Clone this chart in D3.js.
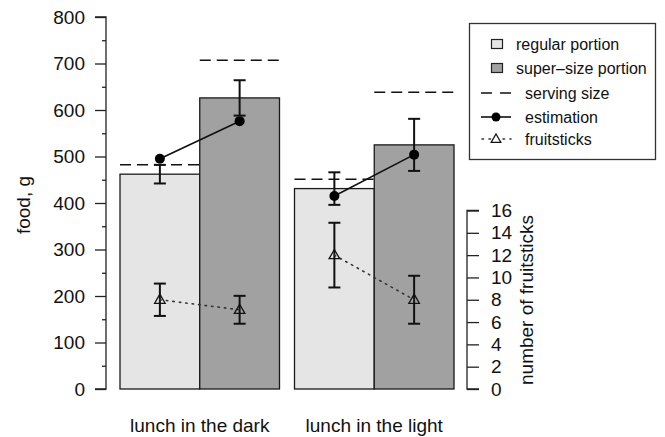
<!DOCTYPE html>
<html>
<head>
<meta charset="utf-8">
<script src="https://cdn.jsdelivr.net/npm/d3@7"></script>
<style>
  body { margin: 0; background: #fff; }
  svg { display: block; font-family: "Liberation Sans", Arial, sans-serif; }
</style>
</head>
<body>
<script>
var categories = ["lunch in the dark", "lunch in the light"];
var portions = ["regular", "super"];

// food, g
var regularFood = [462, 431];
var regularErr = [20, 35];
var superFood = [626, 525];
var superErr = [38, 56];

var regularServing = [482, 451];
var superServing = [707, 638];

var regularEstimate = [495, 415];
var superEstimate = [576, 504];

// number of fruitsticks
var regularSticks = [8.0, 12.0];
var regularSticksErr = [1.45, 2.9];
var superSticks = [7.1, 8.0];
var superSticksErr = [1.25, 2.15];

var foodTicks = [0, 100, 200, 300, 400, 500, 600, 700, 800];
var sticksTicks = [0, 2, 4, 6, 8, 10, 12, 14, 16];

var legendLabels = ["regular portion", "super\u2013size portion", "serving size", "estimation", "fruitsticks"];

var W = 665, H = 437;
var fills = {regular: "#e5e5e5", super: "#a1a1a1"};

var svg = d3.select("body").append("svg")
  .attr("width", W).attr("height", H);

var x = d3.scaleBand().domain(categories).range([120, 454]).paddingInner(15 / 174.5).paddingOuter(0);
var xIn = d3.scaleBand().domain(portions).range([0, x.bandwidth()]);
var y = d3.scaleLinear().domain([0, 800]).range([389, 17]);
var y2 = d3.scaleLinear().domain([0, 16]).range([389, 210.5]);

// rows per group
var rows = [];
categories.forEach(function(c, i){
  rows.push({cat: c, p: "regular", food: regularFood[i], err: regularErr[i], serv: regularServing[i],
             est: regularEstimate[i], st: regularSticks[i], stErr: regularSticksErr[i]});
  rows.push({cat: c, p: "super", food: superFood[i], err: superErr[i], serv: superServing[i],
             est: superEstimate[i], st: superSticks[i], stErr: superSticksErr[i]});
});
function bx(d){ return x(d.cat) + xIn(d.p); }
function cx(d){ return bx(d) + xIn.bandwidth() / 2; }

// bars
svg.append("g").selectAll("rect").data(rows).enter().append("rect")
  .attr("x", bx)
  .attr("y", function(d){ return y(d.food); })
  .attr("width", xIn.bandwidth())
  .attr("height", function(d){ return y(0) - y(d.food); })
  .attr("fill", function(d){ return fills[d.p]; })
  .attr("stroke", "#1a1a1a").attr("stroke-width", 1.3);

// serving size
svg.append("g").selectAll("line").data(rows).enter().append("line")
  .attr("x1", bx)
  .attr("x2", function(d){ return bx(d) + xIn.bandwidth(); })
  .attr("y1", function(d){ return y(d.serv); })
  .attr("y2", function(d){ return y(d.serv); })
  .attr("stroke", "#111").attr("stroke-width", 1.5)
  .attr("stroke-dasharray", "11,6");

function errorBars(g, data, scale, val, err){
  var e = g.selectAll("g").data(data).enter().append("g")
    .attr("stroke", "#111").attr("stroke-width", 2);
  e.append("line")
    .attr("x1", cx).attr("x2", cx)
    .attr("y1", function(d){ return scale(d[val] - d[err]); })
    .attr("y2", function(d){ return scale(d[val] + d[err]); });
  [-1, 1].forEach(function(s){
    e.append("line")
      .attr("x1", function(d){ return cx(d) - 6; })
      .attr("x2", function(d){ return cx(d) + 6; })
      .attr("y1", function(d){ return scale(d[val] + s * d[err]); })
      .attr("y2", function(d){ return scale(d[val] + s * d[err]); });
  });
}

errorBars(svg.append("g"), rows, y, "food", "err");
errorBars(svg.append("g"), rows, y2, "st", "stErr");

// estimation lines
var lineEst = d3.line().x(cx).y(function(d){ return y(d.est); });
var lineSt = d3.line().x(cx).y(function(d){ return y2(d.st); });
categories.forEach(function(c){
  var pair = rows.filter(function(d){ return d.cat === c; });
  svg.append("path").attr("d", lineEst(pair))
    .attr("fill", "none").attr("stroke", "#111").attr("stroke-width", 1.6);
  svg.append("path").attr("d", lineSt(pair))
    .attr("fill", "none").attr("stroke", "#333").attr("stroke-width", 1.6)
    .attr("stroke-dasharray", "1.5,5").attr("stroke-linecap", "round");
});

svg.append("g").selectAll("circle").data(rows).enter().append("circle")
  .attr("cx", cx).attr("cy", function(d){ return y(d.est); })
  .attr("r", 5).attr("fill", "#000");

var tri = d3.symbol().type(d3.symbolTriangle).size(48);
svg.append("g").selectAll("path").data(rows).enter().append("path")
  .attr("d", tri)
  .attr("transform", function(d){ return "translate(" + cx(d) + "," + (y2(d.st) + 0.5) + ")"; })
  .attr("fill", "none").attr("stroke", "#111").attr("stroke-width", 1.3);

// left axis
var axL = svg.append("g").attr("transform", "translate(106,0)")
  .call(d3.axisLeft(y).tickValues(foodTicks).tickSize(11).tickPadding(10));
svg.append("g").attr("transform", "translate(106,0)")
  .call(d3.axisLeft(y).tickValues(d3.range(50, 800, 100)).tickSize(4).tickFormat(""))
  .select(".domain").remove();

// right axis
var axR = svg.append("g").attr("transform", "translate(467,0)")
  .call(d3.axisRight(y2).tickValues(sticksTicks).tickSize(12).tickPadding(12));

svg.selectAll(".tick line, .domain").attr("stroke", "#222").attr("stroke-width", 1.3);
axL.select(".domain").attr("d", "M-11," + y(800) + "H0V" + y(0) + "H-11");
axR.select(".domain").attr("d", "M12," + y2(16) + "H0V" + y2(0) + "H12");
svg.selectAll(".tick text").attr("font-size", 19).attr("fill", "#111")
  .attr("font-family", "Liberation Sans, Arial, sans-serif");

// category labels
svg.append("g").selectAll("text").data(categories).enter().append("text")
  .attr("x", function(d){ return x(d) + x.bandwidth() / 2; })
  .attr("y", 432)
  .attr("text-anchor", "middle").attr("font-size", 19).attr("fill", "#111")
  .text(function(d){ return d; });

// axis titles
svg.append("text").attr("transform", "translate(30,205) rotate(-90)")
  .attr("text-anchor", "middle").attr("font-size", 19).attr("fill", "#111").text("food, g");
svg.append("text").attr("transform", "translate(533,300) rotate(-90)")
  .attr("text-anchor", "middle").attr("font-size", 19).attr("fill", "#111").text("number of fruitsticks");

// legend
var lg = svg.append("g");
lg.append("rect").attr("x", 469.5).attr("y", 23.5).attr("width", 186).attr("height", 136)
  .attr("fill", "#fff").attr("stroke", "#333").attr("stroke-width", 1.3);
var ly = [44, 68, 93, 117, 139];
var lx = [516, 516, 525, 525, 525];
lg.selectAll("text").data(legendLabels).enter().append("text")
  .attr("x", function(d, i){ return lx[i]; })
  .attr("y", function(d, i){ return ly[i] + 6; })
  .attr("font-size", 16).attr("fill", "#111")
  .text(function(d){ return d; });
portions.forEach(function(p, i){
  lg.append("rect").attr("x", 491.5).attr("y", ly[i] - 4.5).attr("width", 11).attr("height", 9)
    .attr("fill", fills[p]).attr("stroke", "#222").attr("stroke-width", 1.2);
});
lg.append("line").attr("x1", 481).attr("x2", 512).attr("y1", ly[2]).attr("y2", ly[2])
  .attr("stroke", "#111").attr("stroke-width", 1.5).attr("stroke-dasharray", "11,8");
lg.append("line").attr("x1", 481).attr("x2", 511).attr("y1", ly[3]).attr("y2", ly[3])
  .attr("stroke", "#111").attr("stroke-width", 1.6);
lg.append("circle").attr("cx", 496).attr("cy", ly[3]).attr("r", 4.5).attr("fill", "#000");
lg.append("line").attr("x1", 482).attr("x2", 511).attr("y1", ly[4]).attr("y2", ly[4])
  .attr("stroke", "#333").attr("stroke-width", 1.6).attr("stroke-dasharray", "1.5,5.5")
  .attr("stroke-linecap", "round");
lg.append("path").attr("d", d3.symbol().type(d3.symbolTriangle).size(40))
  .attr("transform", "translate(496," + (ly[4] + 0.5) + ")")
  .attr("fill", "#fff").attr("stroke", "#111").attr("stroke-width", 1.3);
</script>
</body>
</html>
